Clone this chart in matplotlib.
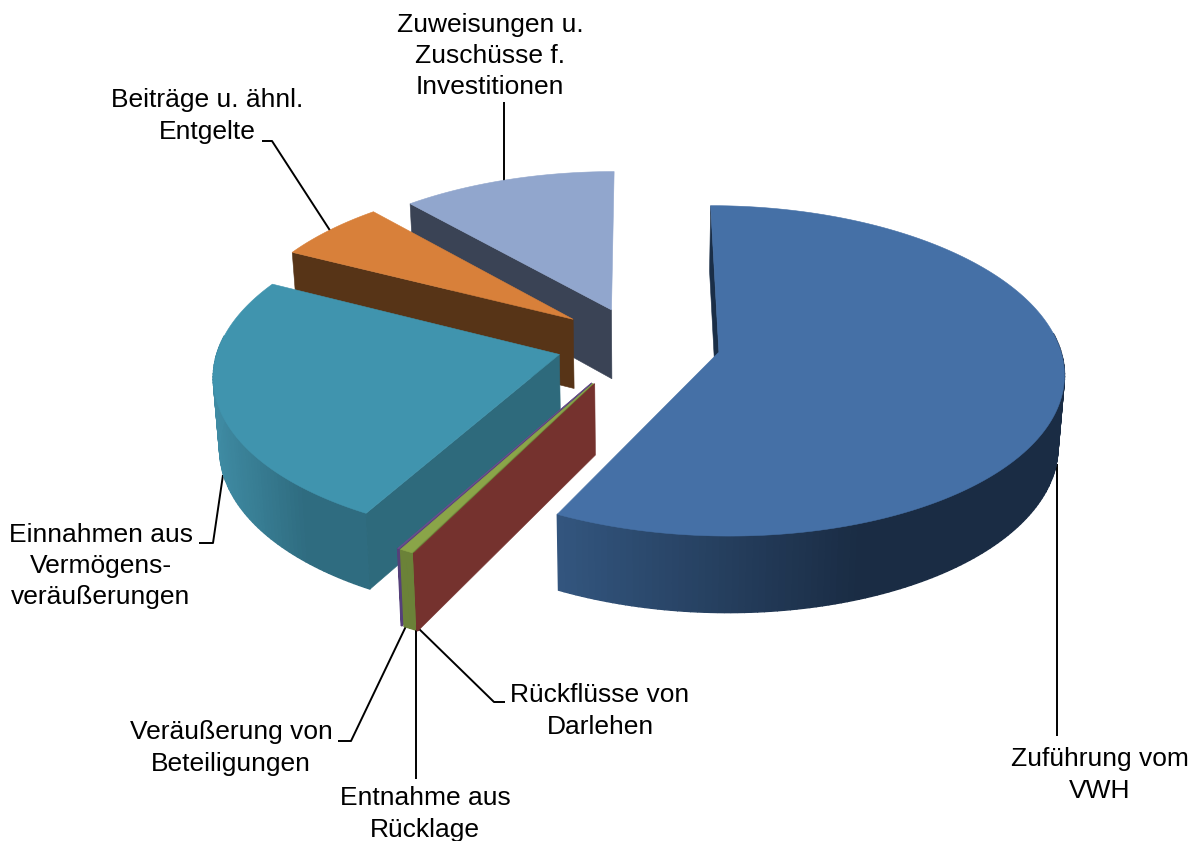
import numpy as np
from matplotlib import pyplot as plt
from matplotlib.colors import to_rgb
from matplotlib.patches import Polygon

# Anteile in Prozent, im Uhrzeigersinn ab 12 Uhr
kategorien = ["Zuführung vom\nVWH", "Rückflüsse von\nDarlehen", "Entnahme aus\nRücklage",
              "Veräußerung von\nBeteiligungen", "Einnahmen aus\nVermögens-\nveräußerungen",
              "Beiträge u. ähnl.\nEntgelte", "Zuweisungen u.\nZuschüsse f.\nInvestitionen"]
werte = [57.4, 0.05, 0.55, 0.06, 24.4, 6.0, 11.54]

explosion = [0.243, 0.275, 0.275, 0.275, 0.24, 0.245, 0.225]
farbe_oben = ["#4570a6", "#7a312e", "#8aa548", "#6a4d8f", "#4094ae", "#d8803a", "#91a6cd"]
farbe_schnitt = ["#1a2e47", "#75322e", "#6b8238", "#55407a", "#2e6a7c", "#573417", "#3a4355"]
farbe_rand1 = ["#33567f", "#75322e", "#6b8238", "#55407a", "#2f6c80", "#573417", "#3a4355"]
farbe_rand2 = ["#1a2c44", "#75322e", "#6b8238", "#55407a", "#3f8ba3", "#573417", "#3a4355"]
reihenfolge = [6, 5, 0, 4, 3, 2, 1]

label_pos = [(1100, 775), (600, 711), (425, 814), (231, 748), (101, 566), (207, 116), (490, 56)]
leader = [[(1057, 464), (1057, 736)],
          [(505, 702), (494, 702), (415, 625)],
          [(416, 625), (416, 779)],
          [(338, 741), (351, 741), (408, 622)],
          [(199, 543), (213, 543), (223, 475)],
          [(262, 141), (272, 141), (331, 232)],
          [(504, 102), (504, 182)]]

cx, cy = 638, 343
a, b, k = 340, 161, 0.113
hoehe, s = 70, 0.985
kamera = (-0.1, -3)


def projekt(u, v, unten=False):
    w = 1 + k * v
    x = cx + a * u / w
    y = cy - b * v / w
    if unten:
        x = cx + (x - cx) * s
        y = cy + (y - cy) * s + hoehe / w
    return np.column_stack([x, y])


def mischung(f1, f2, t):
    f1, f2 = np.array(to_rgb(f1)), np.array(to_rgb(f2))
    return tuple(f1 + (f2 - f1) * t)


def flaeche(ax, pts, farbe, z, lw=0.4):
    ax.add_patch(Polygon(pts, closed=True, facecolor=farbe, edgecolor=farbe, lw=lw, zorder=z))


fig = plt.figure(figsize=(11.97, 8.41), dpi=100)
ax = fig.add_axes([0, 0, 1, 1])
ax.set_xlim(0, 1197)
ax.set_ylim(841, 0)
ax.axis("off")

anteile = np.array(werte) / sum(werte) * 2 * np.pi
ende = np.cumsum(anteile)
start = ende - anteile

for rang, i in enumerate(reihenfolge):
    z = 2 + rang
    mitte = (start[i] + ende[i]) / 2
    u0 = explosion[i] * np.sin(mitte)
    v0 = explosion[i] * np.cos(mitte)
    t = np.linspace(start[i], ende[i], max(int(np.degrees(anteile[i])), 2) + 1)
    ru = u0 + np.sin(t)
    rv = v0 + np.cos(t)
    oben = projekt(ru, rv)
    unten = projekt(ru, rv, True)

    # Randstreifen, nur die vordere Seite
    for j in range(len(t) - 1):
        if np.cos(t[j]) > 0.1 and np.cos(t[j + 1]) > 0.1:
            continue
        stueck = np.vstack([oben[j:j + 2], unten[j:j + 2][::-1]])
        f = np.clip((oben[j, 0] - oben[:, 0].min()) / max(np.ptp(oben[:, 0]) * 0.6, 1), 0, 1)
        if i == 4:
            f = 1 - f
        flaeche(ax, stueck, mischung(farbe_rand1[i], farbe_rand2[i], f), z, 1.0)

    # Schnittflaechen, nur wenn sie zur Kamera zeigen
    for winkel, aussen in ((start[i], -1), (ende[i], 1)):
        du, dv = np.sin(winkel), np.cos(winkel)
        nu, nv = aussen * dv, -aussen * du
        if (kamera[0] - u0) * nu + (kamera[1] - v0) * nv <= 0:
            continue
        uu = np.array([u0, u0 + du])
        vv = np.array([v0, v0 + dv])
        pts = np.vstack([projekt(uu, vv), projekt(uu, vv, True)[::-1]])
        flaeche(ax, pts, farbe_schnitt[i], z)

    deckel = np.vstack([projekt(np.array([u0]), np.array([v0])), oben])
    flaeche(ax, deckel, farbe_oben[i], z + 0.5)

for l in leader:
    xs, ys = zip(*l)
    ax.plot(xs, ys, color="black", lw=1.4, zorder=1, solid_capstyle="butt")
for text, pos in zip(kategorien, label_pos):
    ax.text(pos[0], pos[1], text, ha="center", va="center", fontsize=19,
            family="Liberation Sans", linespacing=1.37, color="black", zorder=20)

fig.savefig("out.png", dpi=100)
